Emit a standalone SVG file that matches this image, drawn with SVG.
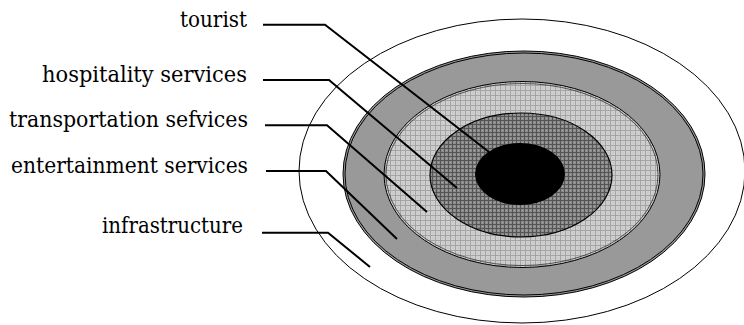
<svg xmlns="http://www.w3.org/2000/svg" width="744" height="325" viewBox="0 0 744 325">
<style>
.lbl{font-family:'DejaVu Serif',serif;font-size:22.5px;fill:#000;text-anchor:end}
.ld{fill:none;stroke:#000;stroke-width:2}
.thin{stroke:#000;stroke-width:1}
</style>
<defs>
<pattern id="light" width="5" height="5" patternUnits="userSpaceOnUse">
<rect width="5" height="5" fill="#d0d0d0"/>
<path d="M0 0.5H5M0.5 0V5" stroke="#a4a4a4" stroke-width="1"/>
<rect x="2.5" y="2.5" width="1" height="1" fill="#b8b8b8"/>
</pattern>
<pattern id="dark" width="4" height="4" patternUnits="userSpaceOnUse">
<rect width="4" height="4" fill="#8c8c8c"/>
<path d="M0 0.5H4M0.5 0V4" stroke="#555" stroke-width="1"/>
<rect x="2" y="2" width="1" height="1" fill="#a8a8a8"/>
</pattern>
</defs>
<rect width="744" height="325" fill="#fff"/>
<g id="infrastructure-ring">
<ellipse cx="522" cy="171" rx="223" ry="152" fill="#fff" class="thin"/>
</g>
<g id="entertainment-ring">
<ellipse cx="524" cy="174" rx="181" ry="123" fill="#999" stroke="#000" stroke-width="1"/>
<ellipse cx="524" cy="174" rx="179" ry="121" fill="none" stroke="#000" stroke-width="1"/>
</g>
<g id="transportation-ring">
<ellipse cx="522" cy="174.5" rx="138" ry="93" fill="url(#light)" stroke="#000" stroke-width="1"/>
<ellipse cx="522" cy="174.5" rx="136" ry="91" fill="none" stroke="#333" stroke-width="0.8"/>
</g>
<g id="hospitality-ring">
<ellipse cx="521" cy="175" rx="91" ry="62" fill="url(#dark)" stroke="#000" stroke-width="1.2"/>
</g>
<g id="tourist-core">
<ellipse cx="520" cy="174" rx="45" ry="31" fill="#000"/>
</g>
<g id="labels">
<text class="lbl" x="247" y="27" textLength="67" lengthAdjust="spacingAndGlyphs">tourist</text>
<text class="lbl" x="247" y="82" textLength="205" lengthAdjust="spacingAndGlyphs">hospitality services</text>
<text class="lbl" x="248" y="127" textLength="239" lengthAdjust="spacingAndGlyphs">transportation sefvices</text>
<text class="lbl" x="248" y="173" textLength="237" lengthAdjust="spacingAndGlyphs">entertainment services</text>
<text class="lbl" x="243" y="233" textLength="141" lengthAdjust="spacingAndGlyphs">infrastructure</text>
</g>
<g id="connectors">
<polyline class="ld" points="263,24.7 325,24.7 489,152"/>
<polyline class="ld" points="263,80 329,80 457,188"/>
<polyline class="ld" points="265,125.3 327,125.3 427,212"/>
<polyline class="ld" points="266,171 326,171 397,239"/>
<polyline class="ld" points="262,232.7 328,232.7 370,267"/>
</g>
</svg>
